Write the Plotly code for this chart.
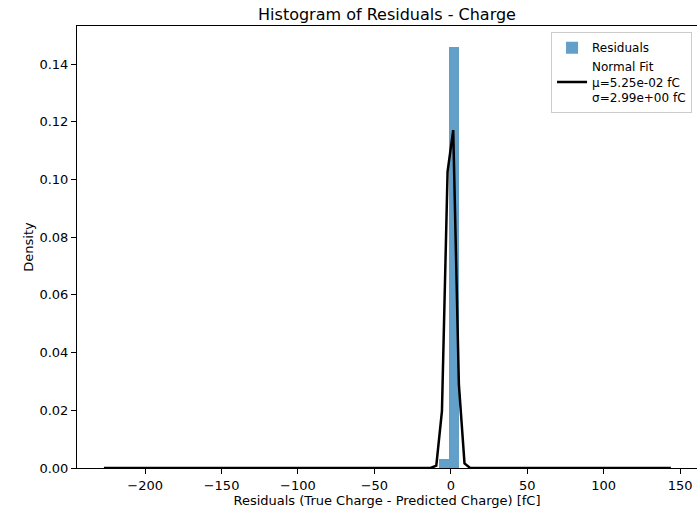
import plotly.graph_objects as go

# Histogram data (density), bin edges in fC
bin_edges = [-7.5, -1.0, 5.5]
bin_density = [0.003, 0.146]

# Normal fit curve
fit_x = [-227.0, -13.2, -9.49, -5.80, -2.11, 1.58, 5.27, 8.96, 12.65, 144.0]
fit_y = [0.0, 0.0, 0.0008, 0.0197, 0.1027, 0.1171, 0.0291, 0.0016, 0.0, 0.0]

mu = 5.25e-02
sigma = 2.99e+00

x_ticks = [-200, -150, -100, -50, 0, 50, 100, 150]
y_ticks = [0.0, 0.02, 0.04, 0.06, 0.08, 0.10, 0.12, 0.14]

centers = [(bin_edges[i] + bin_edges[i + 1]) / 2 for i in range(len(bin_density))]
widths = [bin_edges[i + 1] - bin_edges[i] for i in range(len(bin_density))]

fig = go.Figure()
fig.add_trace(go.Bar(
    x=centers, y=bin_density, width=widths,
    marker=dict(color="rgba(31,119,180,0.7)", line=dict(width=0)),
    name="Residuals",
))
fig.add_trace(go.Scatter(
    x=fit_x, y=fit_y, mode="lines",
    line=dict(color="black", width=2.5),
    name=f"Normal Fit<br>μ={mu:.2e} fC<br>σ={sigma:.2e} fC",
))

font = dict(family="DejaVu Sans", size=13, color="black")

def fmt_x(v):
    return ("\u2212" + str(abs(v))) if v < 0 else str(v)

fig.update_layout(
    width=697, height=508,
    margin=dict(l=77, r=0, t=26, b=40),
    paper_bgcolor="white", plot_bgcolor="white",
    font=font,
    title=dict(text="Histogram of Residuals - Charge", x=0.5, xref="paper",
               xanchor="center", y=1 - 14 / 508, yref="container", yanchor="middle",
               font=dict(family="DejaVu Sans", size=16, color="black")),
    showlegend=True,
    legend=dict(x=0.992, y=0.986, xanchor="right", yanchor="top",
                bgcolor="rgba(255,255,255,0.8)", bordercolor="#cccccc", borderwidth=1,
                font=dict(family="DejaVu Sans", size=12, color="black"),
                valign="middle", tracegroupgap=0, itemwidth=30),
    bargap=0,
)
fig.update_xaxes(
    range=[-244.6, 161.1], showgrid=False, zeroline=False,
    showline=True, linecolor="black", linewidth=1, mirror=True,
    ticks="outside", ticklen=5, tickcolor="black",
    tickvals=x_ticks, ticktext=[fmt_x(v) for v in x_ticks],
    title=dict(text="Residuals (True Charge - Predicted Charge) [fC]", standoff=4,
               font=dict(family="DejaVu Sans", size=13, color="black")),
)
fig.update_yaxes(
    range=[0, 0.1532], showgrid=False, zeroline=False,
    showline=True, linecolor="black", linewidth=1, mirror=True,
    ticks="outside", ticklen=5, tickcolor="black",
    tickvals=y_ticks, ticktext=[f"{v:.2f}" for v in y_ticks],
    title=dict(text="Density", standoff=2,
               font=dict(family="DejaVu Sans", size=13, color="black")),
)

fig.write_html(
    "out.html",
    config={"displayModeBar": False},
    post_script="document.body.style.margin='0';document.body.style.overflow='hidden';",
)
